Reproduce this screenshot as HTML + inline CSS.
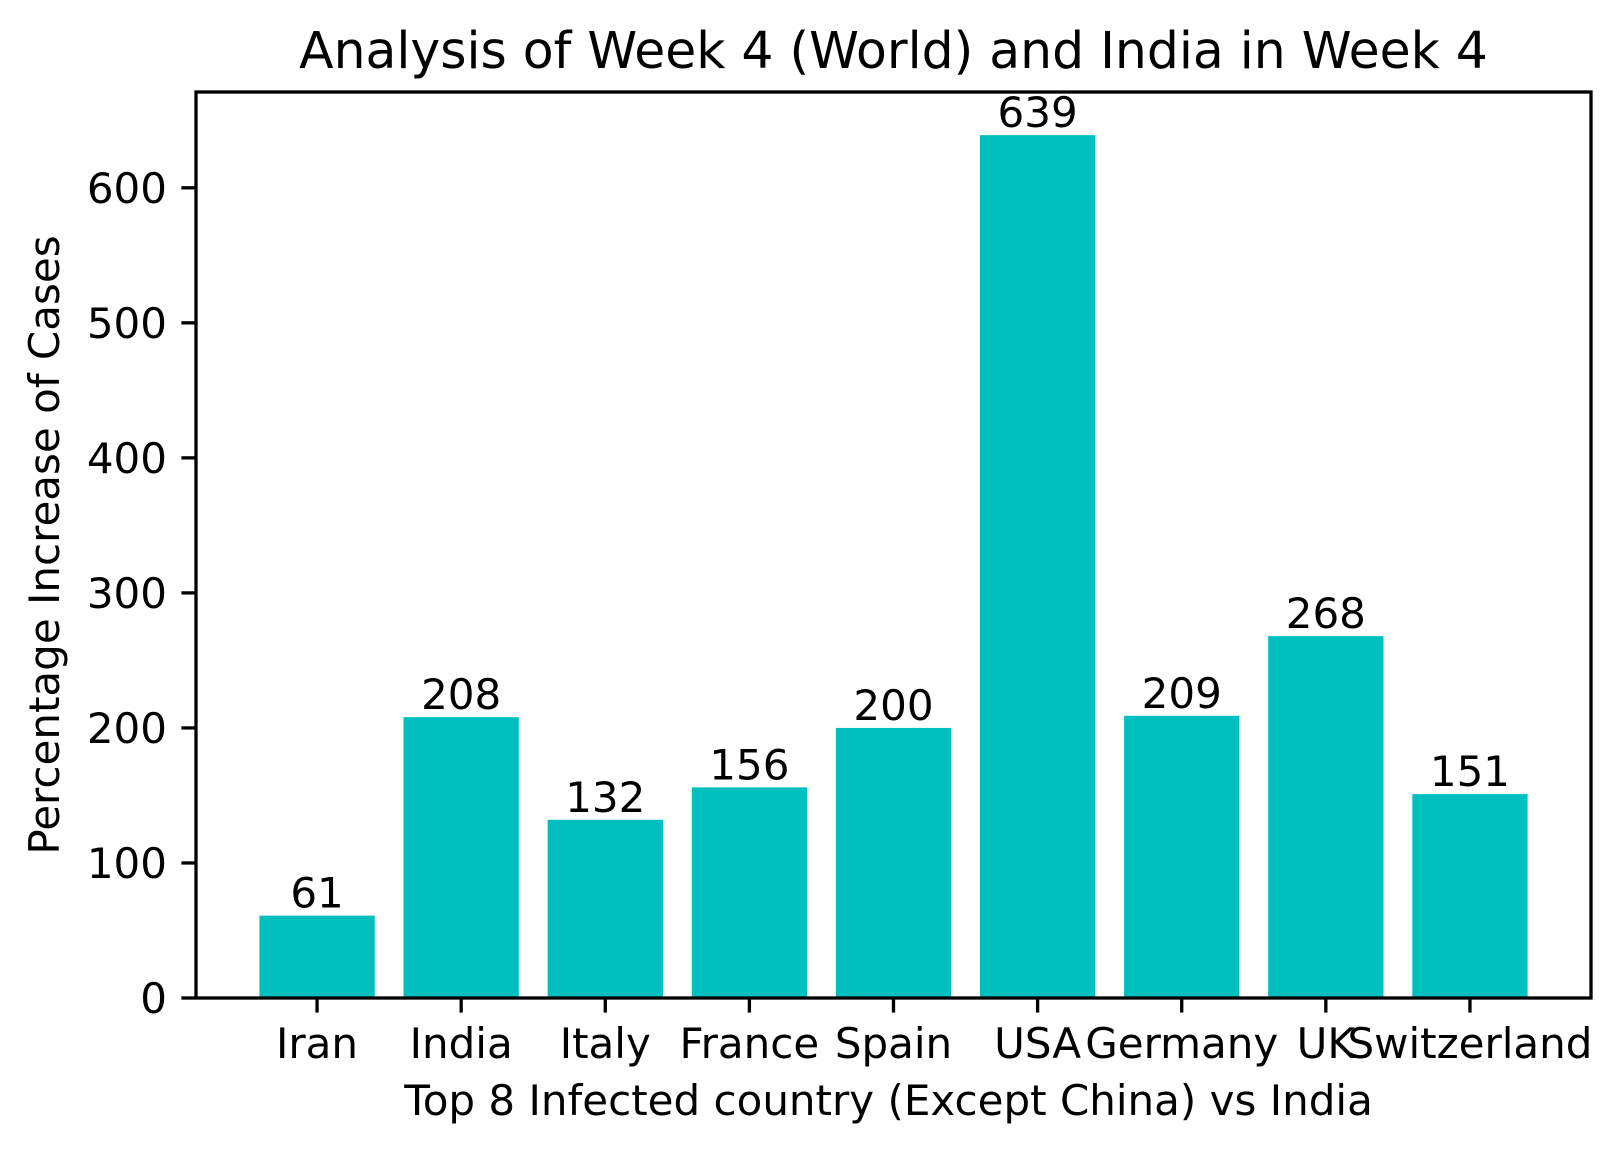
<!DOCTYPE html>
<html><head><meta charset="utf-8"><style>
html,body{margin:0;padding:0;background:#fff;}
svg{display:block;font-family:"DejaVu Sans","Liberation Sans",sans-serif;}
</style></head><body>
<svg id="chart" width="1620" height="1154" viewBox="0 0 1620 1154"></svg>
<script>
const categories = ["Iran","India","Italy","France","Spain","USA","Germany","UK","Switzerland"];
const values = [61,208,132,156,200,639,209,268,151];
const yTicks = [0,100,200,300,400,500,600];

const svg = document.getElementById('chart');
const NS = 'http://www.w3.org/2000/svg';
const L=196, R=1591, T=92, B=998;
const xMin=-0.84, xMax=categories.length-1+0.84;
const yMax = Math.max(...values)*1.05;
const xs = v => L + (v - xMin)/(xMax - xMin)*(R-L);
const ys = v => B - v/yMax*(B-T);
function mk(tag, attrs, parent){const e=document.createElementNS(NS,tag);for(const k in attrs)e.setAttribute(k,attrs[k]);(parent||svg).appendChild(e);return e;}

const title = mk('text',{x:(L+R)/2,y:68,'text-anchor':'middle','font-size':50.4});
title.textContent='Analysis of Week 4 (World) and India in Week 4';



const bw = (xs(0.4)-xs(-0.4));
categories.forEach((c,i)=>{
  const r = mk('rect',{x:xs(i)-bw/2,y:ys(values[i]),width:bw,height:B-ys(values[i]),fill:'#00bfbf'});
  
  
  const t = mk('text',{x:xs(i),y:ys(values[i])-8,'text-anchor':'middle','font-size':42});
  t.textContent=String(values[i]);
  
  
  const tk = mk('line',{x1:xs(i),x2:xs(i),y1:B,y2:B+14.6,stroke:'#000','stroke-width':3.3});
  
  
  const tl = mk('text',{x:xs(i),y:1058,'text-anchor':'middle','font-size':42});
  tl.textContent=c;
  
  
});
yTicks.forEach(v=>{
  const tk = mk('line',{x1:L-14.6,x2:L,y1:ys(v),y2:ys(v),stroke:'#000','stroke-width':3.3});
  
  
  const tl = mk('text',{x:167,y:ys(v)+15,'text-anchor':'end','font-size':42});
  tl.textContent=String(v);
  
  
});
const frame = mk('rect',{x:L,y:T,width:R-L,height:B-T,fill:'none',stroke:'#000','stroke-width':3.3});


const xl = mk('text',{x:(L+R)/2-5,y:1115,'text-anchor':'middle','font-size':42});
xl.textContent='Top 8 Infected country (Except China) vs India';


const yl = mk('text',{x:0,y:0,'text-anchor':'middle','font-size':42,transform:'translate(59,'+((T+B)/2)+') rotate(-90)'});
yl.textContent='Percentage Increase of Cases';


</script>
</body></html>
